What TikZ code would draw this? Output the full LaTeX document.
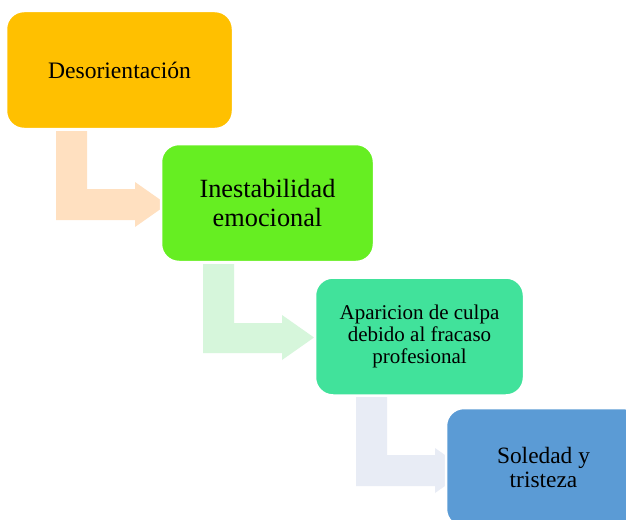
\documentclass[tikz,border=0pt]{standalone}
\usepackage{fontspec}
\setmainfont{Liberation Serif}
\usetikzlibrary{backgrounds}
\definecolor{cA}{RGB}{255,192,0}
\definecolor{cB}{RGB}{102,238,34}
\definecolor{cC}{RGB}{65,226,155}
\definecolor{cD}{RGB}{91,155,213}
\definecolor{aA}{RGB}{255,224,192}
\definecolor{aB}{RGB}{214,246,219}
\definecolor{aC}{RGB}{232,236,245}
\tikzset{
  stagebox/.style={rectangle, rounded corners=18pt, draw=white, line width=2.5pt,
    align=center, inner sep=4pt, text=black}
}
\begin{document}
\begin{tikzpicture}[x=1pt,y=-1pt]
\useasboundingbox (0,0) rectangle (626,519);
\clip (0,0) rectangle (626,519);
\node[stagebox, fill=cA, minimum width=227pt, minimum height=118pt,
  font=\fontsize{23.6}{26}\selectfont] (a) at (119.5,70) {Desorientación};
\node[stagebox, fill=cB, minimum width=213pt, minimum height=118pt,
  font=\fontsize{26.3}{29}\selectfont] (b) at (267.5,203) {Inestabilidad\\emocional};
\node[stagebox, fill=cC, minimum width=209pt, minimum height=118pt,
  font=\fontsize{21}{22}\selectfont] (c) at (419.5,336.5) {Aparicion de culpa\\debido al fracaso\\profesional};
\node[stagebox, fill=cD, minimum width=195pt, minimum height=119pt,
  font=\fontsize{23.4}{24.3}\selectfont] (d) at (543.5,467.5) {Soledad y\\tristeza};
\begin{scope}[on background layer]
\fill[white] (0,0) rectangle (626,519);
\fill[aA] (56,131) -- (87,131) -- (87,189) -- (135,189) -- (135,182) -- (167,204.5)
  -- (135,227) -- (135,220) -- (56,220) -- cycle;
\fill[aB] (203,264) -- (234,264) -- (234,323) -- (282,323) -- (282,315) -- (314,337.5)
  -- (282,360) -- (282,353) -- (203,353) -- cycle;
\fill[aC] (356,397) -- (387,397) -- (387,455) -- (435,455) -- (435,448) -- (467,470.5)
  -- (435,493) -- (435,486) -- (356,486) -- cycle;
\end{scope}
\end{tikzpicture}
\end{document}
